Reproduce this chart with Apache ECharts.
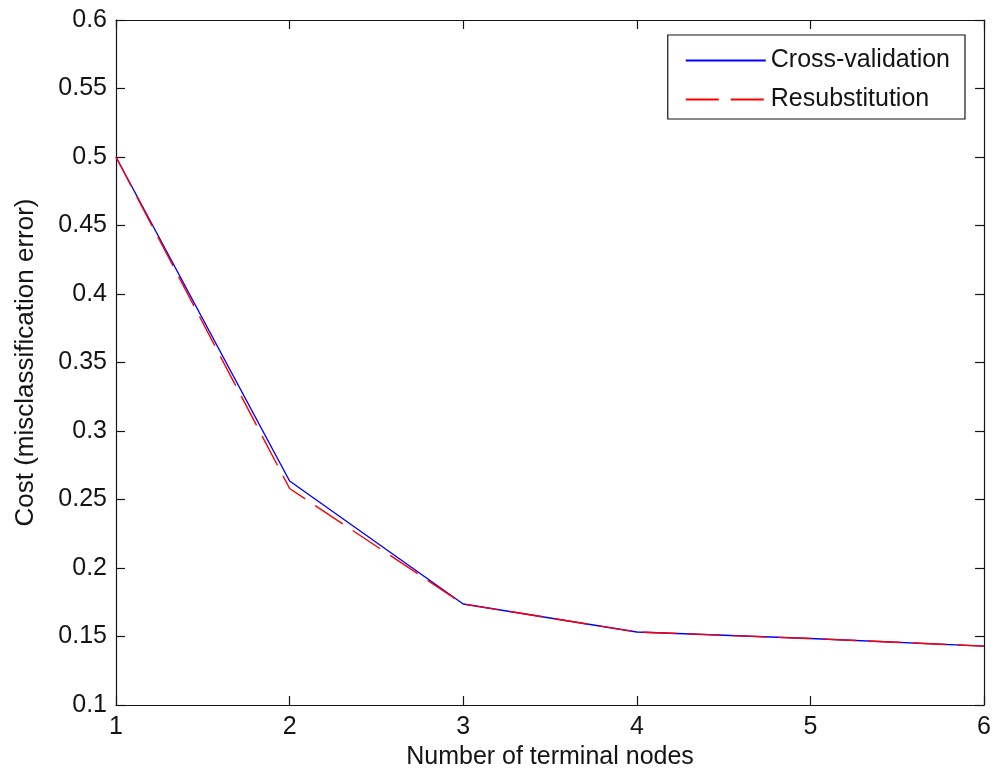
<!DOCTYPE html>
<html>
<head>
<meta charset="utf-8">
<script src="https://cdn.jsdelivr.net/npm/echarts@6/dist/echarts.min.js"></script>
<style>
  html, body { margin: 0; padding: 0; background: #fff; }
  #chart { width: 994px; height: 776px; }
</style>
</head>
<body>
<div id="chart"></div>
<script>
// Number of terminal nodes in the pruned tree
const terminalNodes = [1, 2, 3, 4, 5, 6];
// Misclassification cost for each tree size
const crossValidation = [0.500, 0.2635, 0.1737, 0.1533, 0.1485, 0.1430];
const resubstitution  = [0.500, 0.2580, 0.1737, 0.1533, 0.1485, 0.1430];
const yTicks = [0.1, 0.15, 0.2, 0.25, 0.3, 0.35, 0.4, 0.45, 0.5, 0.55, 0.6];

const FONT = 'Liberation Sans, Arial, sans-serif';
const INK = '#141414';
const FS = 25;

const pairs = arr => terminalNodes.map((n, i) => [n, arr[i]]);

const chart = echarts.init(document.getElementById('chart'), null, { renderer: 'canvas' });

const baseX = {
  type: 'value', min: 1, max: 6, interval: 1,
  axisLine: { show: true, onZero: false, lineStyle: { color: INK, width: 1.2 } },
  axisTick: { show: true, inside: true, length: 9, lineStyle: { color: INK, width: 1.2 } },
  splitLine: { show: false }
};
const baseY = {
  type: 'value', min: 0.1, max: 0.6, interval: 0.05,
  axisLine: { show: true, onZero: false, lineStyle: { color: INK, width: 1.2 } },
  axisTick: { show: true, inside: true, length: 9, lineStyle: { color: INK, width: 1.2 } },
  splitLine: { show: false }
};

chart.setOption({
  animation: false,
  backgroundColor: '#fff',
  grid: { left: 116, right: 9, top: 20, bottom: 71 },
  legend: {
    right: 29, top: 35,
    orient: 'vertical',
    itemWidth: 80, itemHeight: 14, itemGap: 14,
    padding: [13, 15, 7, 17],
    borderColor: INK, borderWidth: 1.2,
    backgroundColor: '#fff',
    itemStyle: { opacity: 0 },
    textStyle: { fontFamily: FONT, fontSize: FS, color: INK },
    data: ['Cross-validation', 'Resubstitution']
  },
  xAxis: [
    Object.assign({}, baseX, {
      position: 'bottom',
      name: 'Number of terminal nodes',
      nameLocation: 'middle', nameGap: 38,
      nameTextStyle: { fontFamily: FONT, fontSize: FS, color: INK },
      axisLabel: { fontFamily: FONT, fontSize: FS, color: INK, margin: 10 }
    }),
    Object.assign({}, baseX, { position: 'top', axisLabel: { show: false } })
  ],
  yAxis: [
    Object.assign({}, baseY, {
      position: 'left',
      name: 'Cost (misclassification error)',
      nameLocation: 'middle', nameGap: 77,
      nameTextStyle: { fontFamily: FONT, fontSize: 26, color: INK },
      axisLabel: {
        fontFamily: FONT, fontSize: FS, color: INK, margin: 9,
        formatter: v => {
          const t = yTicks.find(k => Math.abs(k - v) < 1e-9);
          return t === undefined ? '' : String(+t.toFixed(2));
        }
      }
    }),
    Object.assign({}, baseY, { position: 'right', axisLabel: { show: false } })
  ],
  series: [
    {
      name: 'Cross-validation', type: 'line',
      data: pairs(crossValidation),
      symbol: 'none', z: 2,
      lineStyle: { color: '#0000ff', width: 1.4 },
      itemStyle: { color: '#0000ff' }
    },
    {
      name: 'Resubstitution', type: 'line',
      data: pairs(resubstitution),
      symbol: 'none', z: 3,
      lineStyle: { color: '#ff0000', width: 1.4, type: [33, 12] },
      itemStyle: { color: '#ff0000' }
    }
  ]
});
</script>
</body>
</html>
